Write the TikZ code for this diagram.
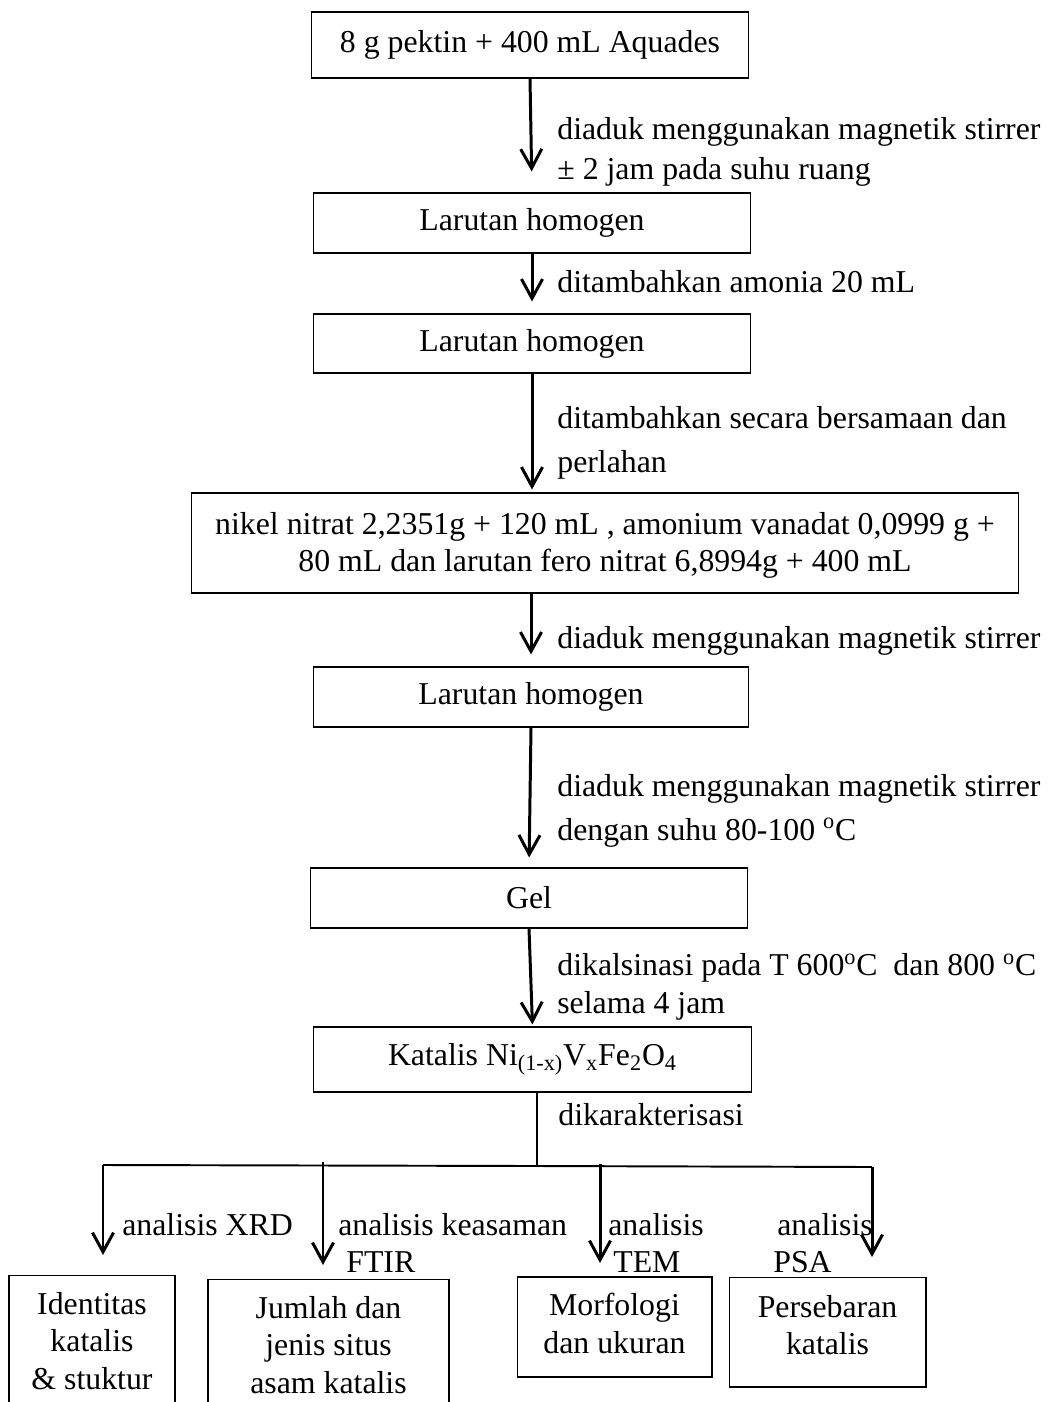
\documentclass[tikz,border=0pt]{standalone}
\usepackage{fontspec}
\setmainfont{Liberation Serif}
\usetikzlibrary{arrows.meta}

\begin{document}
\begin{tikzpicture}[x=0.02cm, y=-0.02cm,
    box/.style={draw, line width=0.6pt, inner sep=0pt, align=center,
        font=\fontsize{18.1pt}{21.3pt}\selectfont},
    note/.style={anchor=base west, inner sep=0pt, align=left,
        font=\fontsize{18.1pt}{22.8pt}\selectfont},
    flow/.style={line width=1.7pt, -{Straight Barb[length=11pt,width=12pt]}}]
    \useasboundingbox (0,0) rectangle (1048,1402);
    \clip (0,0) rectangle (1048,1402);

    % main column
    \node[box, minimum width=8.76cm, minimum height=1.32cm] (pektin) at (530,45) {8 g pektin + 400 mL Aquades};
    \node[box, minimum width=8.76cm, minimum height=1.2cm] (homogenA) at (532,223) {Larutan homogen};
    \node[box, minimum width=8.76cm, minimum height=1.18cm] (homogenB) at (532,343.5) {Larutan homogen};
    \node[box, minimum width=16.56cm, minimum height=2cm, text depth=1pt] (campuran) at (605,543)
        {nikel nitrat 2,2351g + 120 mL , amonium vanadat 0,0999 g +\\80 mL dan larutan fero nitrat 6,8994g + 400 mL};
    \node[box, minimum width=8.72cm, minimum height=1.2cm] (homogenC) at (531,697) {Larutan homogen};
    \node[box, minimum width=8.76cm, minimum height=1.2cm] (gel) at (529,898) {Gel};
    \node[box, minimum width=8.78cm, minimum height=1.3cm] (katalis) at (532.5,1059.5)
        {Katalis Ni\textsubscript{(1-x)}V\textsubscript{x}Fe\textsubscript{2}O\textsubscript{4}};

    % characterisation boxes
    \node[box, minimum width=3.32cm, minimum height=2.64cm] (identitas) at (92,1341) {Identitas\\katalis\\\& stuktur};
    \node[box, minimum width=4.82cm, minimum height=2.64cm] (jumlah) at (328.5,1345) {Jumlah dan\\jenis situs\\asam katalis};
    \node[box, minimum width=3.9cm, minimum height=2cm, text depth=4pt] (morfologi) at (614.5,1327) {Morfologi\\dan ukuran};
    \node[box, minimum width=3.94cm, minimum height=2.2cm, text depth=8pt] (persebaran) at (827.5,1332) {Persebaran\\katalis};

    % step labels
    \node[note] (stirA) at (557,180) {diaduk menggunakan magnetik stirrer\\± 2 jam pada suhu ruang};
    \node[note] (amonia) at (557,292) {ditambahkan amonia 20 mL};
    \node[note, font=\fontsize{18.1pt}{25pt}\selectfont] (tambah) at (557,472) {ditambahkan secara bersamaan dan\\perlahan};
    \node[note] (stirB) at (557,648) {diaduk menggunakan magnetik stirrer};
    \node[note, font=\fontsize{18.1pt}{25pt}\selectfont] (stirC) at (557,840)
        {diaduk menggunakan magnetik stirrer\\dengan suhu 80-100 \textsuperscript{o}C};
    \node[note, font=\fontsize{18.1pt}{21.6pt}\selectfont] (kalsinasi) at (557,1013)
        {dikalsinasi pada T 600\textsuperscript{o}C\ \ dan 800 \textsuperscript{o}C\\selama 4 jam};
    \node[note] (karakter) at (558,1125) {dikarakterisasi};
    \node[note] (xrd) at (122,1235) {analisis XRD};
    \node[note] (asam) at (338,1235) {analisis keasaman};
    \node[note] (ftir) at (346,1272) {FTIR};
    \node[note] (temA) at (608,1235) {analisis};
    \node[note] (temB) at (613,1272) {TEM};
    \node[note] (psaA) at (777,1235) {analisis};
    \node[note] (psaB) at (773,1272) {PSA};

    % arrows
    \draw[flow, shorten >=0.42cm] (pektin.south) -- (homogenA.north);
    \draw[flow, shorten >=0.24cm] (homogenA.south) -- (homogenB.north);
    \draw[flow, shorten >=0.06cm] (homogenB.south) -- (homogenB.south |- campuran.north);
    \draw[flow, shorten >=0.24cm] (homogenC.north |- campuran.south) -- (homogenC.north);
    \draw[flow, shorten >=0.2cm] (homogenC.south) -- (gel.north);
    \draw[flow, shorten >=0.04cm] (gel.south) -- (katalis.north);

    % branches
    \coordinate (split) at (537,1166);
    \coordinate (brA) at (103,1165);
    \coordinate (brB) at (323,1162);
    \coordinate (brC) at (600,1164);
    \coordinate (brD) at (872,1167);
    \coordinate (tipA) at (103,1255);
    \coordinate (tipB) at (323,1265);
    \coordinate (tipC) at (600,1263);
    \coordinate (tipD) at (872,1257);
    \draw[line width=0.8pt] (katalis.south -| split) -- (split);
    \draw[line width=1.1pt] (brA) -- (split) -- (brD);
    \draw[flow] (brA) -- (tipA);
    \draw[flow] (brB) -- (tipB);
    \draw[flow] (brC) -- (tipC);
    \draw[flow] (brD) -- (tipD);
\end{tikzpicture}
\end{document}
